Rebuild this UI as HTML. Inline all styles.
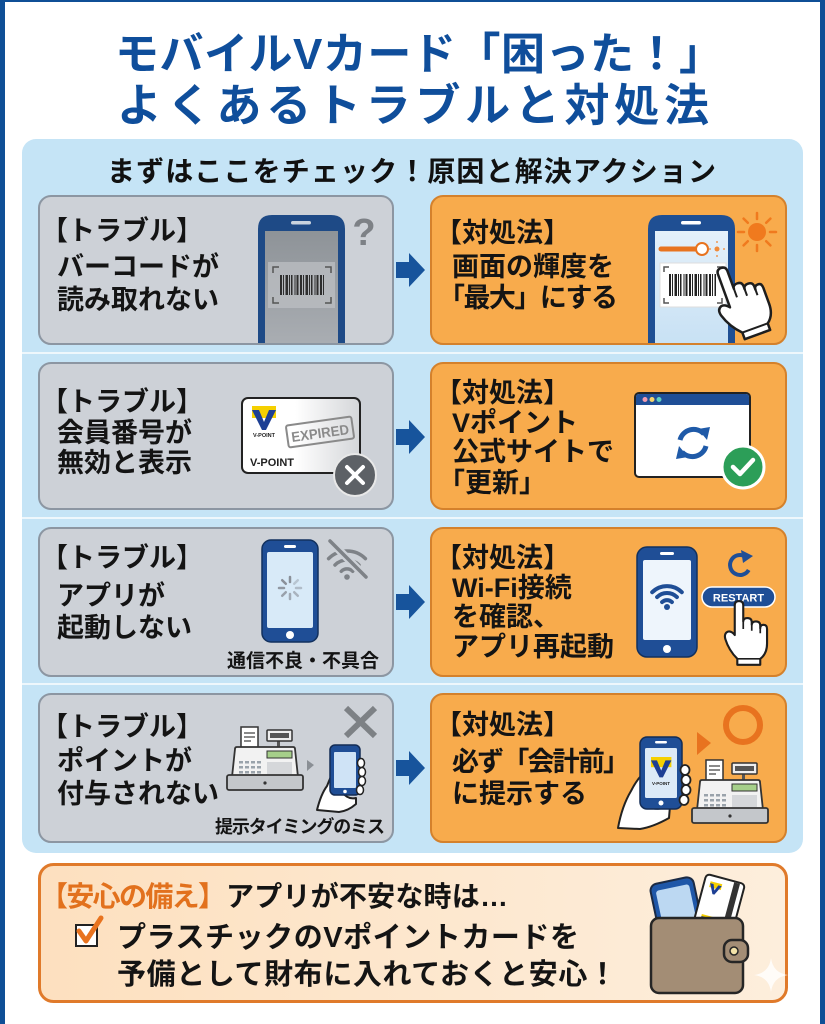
<!DOCTYPE html>
<html><head><meta charset="utf-8">
<style>
html,body{margin:0;padding:0;width:825px;height:1024px;overflow:hidden;background:#fff;}
svg{display:block;}
text{font-family:'Liberation Sans','Noto Sans CJK JP',sans-serif;font-weight:700;}
.t{font-size:27px;fill:#141414;}
</style></head><body>
<svg width="825" height="1024" viewBox="0 0 825 1024" xmlns="http://www.w3.org/2000/svg">
<defs>
 <linearGradient id="gray" x1="0" y1="0" x2="0" y2="1"><stop offset="0" stop-color="#8e9398"/><stop offset="1" stop-color="#a9adb2"/></linearGradient>
 <linearGradient id="lb" x1="0" y1="0" x2="0" y2="1"><stop offset="0" stop-color="#e4f0fa"/><stop offset="1" stop-color="#c8e1f4"/></linearGradient>
 <linearGradient id="cardg" x1="0" y1="0" x2="1" y2="0"><stop offset="0.45" stop-color="#ffffff"/><stop offset="1" stop-color="#d4d6d9"/></linearGradient>
 <linearGradient id="peach" x1="0" y1="0" x2="1" y2="0"><stop offset="0" stop-color="#fde0bf"/><stop offset="1" stop-color="#fdeedc"/></linearGradient>
 <g id="vlogo"><rect x="0" y="0" width="24" height="12" fill="#f5d000"/><polygon points="0,4 7,4 12,16 17,4 24,4 14,24 10,24" fill="#1d3f94"/></g>
 <g id="hand"><path d="M-5 30 V5 Q-5 0 0 0 Q5 0 5 5 V24 Q5 20 10 20 Q15 20 15 25 V28 Q15 24 20 24 Q25 24 25 29 V32 Q25 28 29 28 Q33 28 33 33 V50 Q33 62 25 68 V75 H-2 V68 Q-12 58 -16 45 Q-18 38 -13 36 Q-9 35 -5 40 Z" fill="#fff" stroke="#1e1e1e" stroke-width="2.5" stroke-linejoin="round"/><path d="M5 24 V33 M15 28 V35 M25 32 V38 M-2 68 H25" stroke="#1e1e1e" stroke-width="2" fill="none"/></g>
 <g id="reg">
  <rect x="14" y="0" width="17" height="26" fill="#fff" stroke="#333" stroke-width="1.5"/>
  <path d="M17 6 H28 M17 10 H28 M17 14 H24" stroke="#444" stroke-width="1.3"/>
  <rect x="50" y="12" width="3" height="9" fill="#555"/>
  <rect x="40" y="3" width="25" height="11" rx="1" fill="#eee" stroke="#333" stroke-width="1.5"/>
  <rect x="43" y="6" width="19" height="5" fill="#555"/>
  <path d="M5 50 L8 22 Q8 20 10 20 H66 Q68 20 68 22 L71 50 Z" fill="#f2f2f2" stroke="#333" stroke-width="1.8"/>
  <rect x="40" y="24" width="25" height="7" fill="#a6cf8a" stroke="#333" stroke-width="1"/>
  <g fill="#9aa3ab"><rect x="12" y="34" width="4" height="2.5"/><rect x="18" y="34" width="4" height="2.5"/><rect x="24" y="34" width="4" height="2.5"/><rect x="30" y="34" width="4" height="2.5"/><rect x="12" y="39" width="4" height="2.5"/><rect x="18" y="39" width="4" height="2.5"/><rect x="24" y="39" width="4" height="2.5"/><rect x="30" y="39" width="4" height="2.5"/><rect x="12" y="44" width="4" height="2.5"/><rect x="18" y="44" width="4" height="2.5"/><rect x="24" y="44" width="4" height="2.5"/><rect x="30" y="44" width="4" height="2.5"/></g>
  <rect x="40" y="35" width="25" height="12" fill="#d5d7da"/>
  <rect x="0" y="48" width="76" height="15" rx="2" fill="#c4c7cb" stroke="#333" stroke-width="1.8"/>
  <circle cx="38" cy="56" r="1.6" fill="#333"/>
 </g>
</defs>

<rect width="825" height="1024" fill="#fff"/>
<rect x="0" y="0" width="5" height="1024" fill="#0f4f96"/>
<rect x="820" y="0" width="5" height="1024" fill="#0f4f96"/>
<rect x="0" y="0" width="825" height="2" fill="#0f4f96"/>

<!-- Title -->
<text x="115" y="69" font-size="44" font-weight="900" fill="#0f4e9b" textLength="608" lengthAdjust="spacing">モバイルVカード「困った！」</text>
<text x="117" y="121" font-size="45" font-weight="900" fill="#0f4e9b" textLength="592" lengthAdjust="spacing">よくあるトラブルと対処法</text>

<!-- Panel -->
<rect x="22" y="139" width="781" height="714" rx="14" fill="#c5e4f6"/>
<text x="107" y="181" font-size="28" fill="#111" textLength="609" lengthAdjust="spacing">まずはここをチェック！原因と解決アクション</text>
<rect x="22" y="352" width="781" height="2" fill="#eef7fc"/>
<rect x="22" y="517" width="781" height="2" fill="#eef7fc"/>
<rect x="22" y="683" width="781" height="2" fill="#eef7fc"/>

<!-- Boxes -->
<g fill="#cdd1d7" stroke="#8c96a2" stroke-width="2">
 <rect x="39" y="196" width="354" height="148" rx="12"/>
 <rect x="39" y="363" width="354" height="146" rx="12"/>
 <rect x="39" y="528" width="354" height="148" rx="12"/>
 <rect x="39" y="694" width="354" height="148" rx="12"/>
</g>
<g fill="#f8ab4c" stroke="#d4812c" stroke-width="2">
 <rect x="431" y="196" width="355" height="148" rx="12"/>
 <rect x="431" y="363" width="355" height="146" rx="12"/>
 <rect x="431" y="528" width="355" height="148" rx="12"/>
 <rect x="431" y="694" width="355" height="148" rx="12"/>
</g>

<!-- Arrows -->
<g fill="#17549c">
 <path d="M396 262 H409 V253 L425 270 L409 287 V278 H396 Z"/>
 <path d="M396 429 H409 V420 L425 437 L409 454 V445 H396 Z"/>
 <path d="M396 594 H409 V585 L425 602 L409 619 V610 H396 Z"/>
 <path d="M396 760 H409 V751 L425 768 L409 785 V776 H396 Z"/>
</g>

<!-- Left texts -->
<text class="t" x="41" y="240">【トラブル】</text>
<text class="t" x="57" y="276">バーコードが</text>
<text class="t" x="57" y="309">読み取れない</text>
<text class="t" x="41" y="411">【トラブル】</text>
<text class="t" x="57" y="442">会員番号が</text>
<text class="t" x="57" y="472">無効と表示</text>
<text class="t" x="41" y="567">【トラブル】</text>
<text class="t" x="57" y="605">アプリが</text>
<text class="t" x="57" y="637">起動しない</text>
<text class="t" x="41" y="736">【トラブル】</text>
<text class="t" x="57" y="770">ポイントが</text>
<text class="t" x="57" y="803">付与されない</text>

<!-- Right texts -->
<text class="t" x="435" y="242">【対処法】</text>
<text class="t" x="452" y="276">画面の輝度を</text>
<text class="t" x="438" y="307" textLength="180" lengthAdjust="spacing">「最大」にする</text>
<text class="t" x="435" y="402">【対処法】</text>
<text class="t" x="452" y="432">Vポイント</text>
<text class="t" x="452" y="461">公式サイトで</text>
<text class="t" x="438" y="492">「更新」</text>
<text class="t" x="435" y="567">【対処法】</text>
<text class="t" x="452" y="597">Wi-Fi接続</text>
<text class="t" x="452" y="626">を確認、</text>
<text class="t" x="452" y="656">アプリ再起動</text>
<text class="t" x="435" y="734">【対処法】</text>
<text class="t" x="452" y="771" textLength="178" lengthAdjust="spacing">必ず「会計前」</text>
<text class="t" x="452" y="803">に提示する</text>

<!-- Row1 left icon -->
<path d="M258 343 V229 Q258 215 272 215 H331 Q345 215 345 229 V343 Z" fill="#1e4a86"/>
<rect x="265" y="231" width="73" height="112" fill="url(#gray)"/>
<rect x="291" y="221" width="20" height="3.5" rx="1.75" fill="#c9d3de"/>
<rect x="268" y="262" width="67" height="46" fill="#bcbfc3" opacity=".75"/>
<path d="M273 273 V267 H279 M325 267 H331 V273 M273 297 V303 H279 M325 303 H331 V297" stroke="#555" stroke-width="1.5" fill="none"/>
<line x1="280" y1="285" x2="324" y2="285" stroke="#2e2e2e" stroke-width="20" stroke-dasharray="2 1 1 1.5 2.5 1 1 1 1.5 2 1 1 2 1.5"/>
<text x="364" y="245" font-size="38" fill="#7d8186" text-anchor="middle">?</text>

<!-- Row1 right icon -->
<path d="M648 343 V229 Q648 215 662 215 H721 Q735 215 735 229 V343 Z" fill="#1f4f93"/>
<rect x="655" y="231" width="73" height="112" fill="url(#lb)"/>
<rect x="681" y="221" width="20" height="3.5" rx="1.75" fill="#fff"/>
<line x1="661" y1="249" x2="700" y2="249" stroke="#e8731f" stroke-width="5" stroke-linecap="round"/>
<circle cx="702" cy="249" r="6" fill="#fff" stroke="#e8731f" stroke-width="2"/>
<circle cx="717" cy="249" r="2.5" fill="#f08a3a"/>
<path d="M717 243 V241 M717 255 V257 M711 249 H709 M723 249 H725" stroke="#f08a3a" stroke-width="1.3"/>
<rect x="660" y="263" width="66" height="44" fill="#fff" stroke="#ddd"/>
<path d="M664 272 V267 H669 M717 267 H722 V272 M664 298 V303 H669 M717 303 H722 V298" stroke="#555" stroke-width="1.5" fill="none"/>
<line x1="669" y1="285" x2="716" y2="285" stroke="#222" stroke-width="22" stroke-dasharray="2 1 1 1.5 2.5 1 1 1 1.5 2 1 1 2 1.5"/>
<use href="#hand" transform="translate(721,268) rotate(-20)"/>
<g transform="translate(757,232)">
 <circle r="9" fill="#f07a1e"/>
 <path d="M0 -13 V-19 M0 13 V19 M-13 0 H-19 M13 0 H19 M9.2 -9.2 L13.4 -13.4 M-9.2 -9.2 L-13.4 -13.4 M9.2 9.2 L13.4 13.4 M-9.2 9.2 L-13.4 13.4" stroke="#f07a1e" stroke-width="2.5" stroke-linecap="round"/>
</g>

<!-- Row2 left icon -->
<rect x="242" y="398" width="118" height="75" rx="6" fill="url(#cardg)" stroke="#222" stroke-width="2"/>
<use href="#vlogo" transform="translate(252,406)"/>
<text x="264" y="437" font-size="5.5" text-anchor="middle" fill="#222">V-POINT</text>
<g transform="translate(320,432) rotate(-8)">
 <rect x="-33" y="-11" width="66" height="22" rx="2" fill="none" stroke="#8a8a8a" stroke-width="2"/>
 <text x="-29" y="6" font-size="14" fill="#8a8a8a" textLength="58" lengthAdjust="spacingAndGlyphs">EXPIRED</text>
</g>
<text x="250" y="466" font-size="11" fill="#222">V-POINT</text>
<circle cx="355" cy="475" r="21" fill="#5d6166" stroke="#e8e8e8" stroke-width="2"/>
<path d="M347 467 L363 483 M363 467 L347 483" stroke="#fff" stroke-width="4" stroke-linecap="round"/>

<!-- Row2 right icon -->
<rect x="635" y="393" width="115" height="84" rx="4" fill="#fff" stroke="#222" stroke-width="2"/>
<path d="M636 405 V397 Q636 394 639 394 H746 Q749 394 749 397 V405 Z" fill="#1f4e96"/>
<circle cx="645" cy="399.5" r="2.5" fill="#f29bb0"/>
<circle cx="652" cy="399.5" r="2.5" fill="#f5d36b"/>
<circle cx="659" cy="399.5" r="2.5" fill="#5fd0c0"/>
<g stroke="#1f5aa8" stroke-width="5" fill="none">
 <path d="M680 440 A14 14 0 0 1 704 434"/>
 <path d="M706 446 A14 14 0 0 1 682 452"/>
</g>
<polygon points="698,429 710,427 707,440" fill="#1f5aa8"/>
<polygon points="688,457 676,459 679,446" fill="#1f5aa8"/>
<circle cx="743" cy="467" r="21" fill="#2c9e58" stroke="#fff" stroke-width="3"/>
<path d="M733 467 L740 474 L753 460" stroke="#fff" stroke-width="4.5" fill="none" stroke-linecap="round" stroke-linejoin="round"/>

<!-- Row3 left icon -->
<rect x="262" y="540" width="56" height="102" rx="9" fill="#1f4e96" stroke="#12315e" stroke-width="1.5"/>
<rect x="267" y="552" width="46" height="76" rx="2" fill="#d8eaf8"/>
<rect x="284" y="545" width="12" height="3" rx="1.5" fill="#fff"/>
<circle cx="290" cy="635" r="4" fill="#fff"/>
<g stroke="#8a9099" stroke-width="2.5" stroke-linecap="round">
 <line x1="296" y1="588" x2="301" y2="588" opacity=".5"/>
 <line x1="294.2" y1="592.2" x2="297.8" y2="595.8" opacity=".6"/>
 <line x1="290" y1="594" x2="290" y2="599" opacity=".7"/>
 <line x1="285.8" y1="592.2" x2="282.2" y2="595.8" opacity=".8"/>
 <line x1="284" y1="588" x2="279" y2="588" opacity=".9"/>
 <line x1="285.8" y1="583.8" x2="282.2" y2="580.2"/>
 <line x1="290" y1="582" x2="290" y2="577"/>
 <line x1="294.2" y1="583.8" x2="297.8" y2="580.2" opacity=".4"/>
</g>
<g stroke="#7e8287" stroke-width="3.5" fill="none" stroke-linecap="round">
 <path d="M341.3 571.3 A8 8 0 0 1 352.7 571.3"/>
 <path d="M335 565 A17 17 0 0 1 359 565"/>
 <path d="M328.6 558.6 A26 26 0 0 1 365.4 558.6"/>
</g>
<circle cx="347" cy="577" r="2.8" fill="#7e8287"/>
<line x1="330" y1="541" x2="366" y2="577" stroke="#cdd1d7" stroke-width="8"/>
<line x1="330" y1="541" x2="366" y2="577" stroke="#7e8287" stroke-width="3.5" stroke-linecap="round"/>
<text x="303" y="667" font-size="19" fill="#141414" text-anchor="middle">通信不良・不具合</text>

<!-- Row3 right icon -->
<rect x="637" y="547" width="60" height="110" rx="10" fill="#1f4e96" stroke="#12315e" stroke-width="1.5"/>
<rect x="643" y="560" width="48" height="80" rx="2" fill="#eef5fc"/>
<rect x="660" y="552" width="14" height="3" rx="1.5" fill="#fff"/>
<circle cx="667" cy="649" r="4" fill="#fff"/>
<g stroke="#1f4e96" stroke-width="4" fill="none" stroke-linecap="round">
 <path d="M662.1 602.1 A7 7 0 0 1 671.9 602.1"/>
 <path d="M657.1 597.1 A14 14 0 0 1 676.9 597.1"/>
 <path d="M652.2 592.2 A21 21 0 0 1 681.8 592.2"/>
</g>
<circle cx="667" cy="607" r="3" fill="#1f4e96"/>
<path d="M748.7 570 A10 10 0 1 1 745 556.3" stroke="#1f4e96" stroke-width="4" fill="none"/>
<polygon points="741,550 753,556 743,563" fill="#1f4e96"/>
<rect x="702" y="587" width="73" height="20" rx="10" fill="#1f4e96" stroke="#fff" stroke-width="1.5"/>
<text x="738.5" y="601.5" font-size="11" fill="#fff" text-anchor="middle">RESTART</text>
<use href="#hand" transform="translate(739,601) scale(0.85)"/>

<!-- Row4 left icon -->
<use href="#reg" transform="translate(227,727)"/>
<polygon points="307,760 314,765 307,771" fill="#8a8f95"/>
<path d="M317 810 Q321 794 327 786 Q331 776 334 770 L342 792 Q348 800 356 798 L356 804 Q348 811 339 812 Z" fill="#fff" stroke="#222" stroke-width="2" stroke-linejoin="round"/>
<rect x="330" y="745" width="30" height="50" rx="5" fill="#1f4e96" stroke="#132c55" stroke-width="1.5"/>
<rect x="334" y="752" width="22" height="36" rx="1" fill="#cfe3f6"/>
<circle cx="345" cy="791.5" r="1.8" fill="#fff"/>
<g fill="#fff" stroke="#222" stroke-width="1.5">
 <ellipse cx="361" cy="763" rx="3.5" ry="4.5"/>
 <ellipse cx="362" cy="772" rx="3.5" ry="4.5"/>
 <ellipse cx="362" cy="781" rx="3.5" ry="4.5"/>
 <ellipse cx="360" cy="790" rx="3.5" ry="4.5"/>
</g>
<path d="M346 708 L375 736 M375 708 L346 736" stroke="#7d8185" stroke-width="6"/>
<text x="215" y="833" font-size="18" fill="#141414" textLength="170" lengthAdjust="spacing">提示タイミングのミス</text>

<!-- Row4 right icon -->
<path d="M618 828 Q622 806 631 791 Q636 781 641 776 L646 805 Q656 812 670 806 L669 818 Q653 827 640 829 Z" fill="#fff" stroke="#222" stroke-width="2" stroke-linejoin="round"/>
<rect x="640" y="737" width="42" height="72" rx="7" fill="#1f4e96" stroke="#132c55" stroke-width="1.5"/>
<rect x="645" y="748" width="32" height="50" rx="1.5" fill="#dceaf7"/>
<rect x="655" y="741" width="12" height="2.5" rx="1.2" fill="#fff"/>
<use href="#vlogo" transform="translate(651,757) scale(0.85)"/>
<text x="661" y="785" font-size="4.5" text-anchor="middle" fill="#222">V-POINT</text>
<circle cx="661" cy="803" r="2.5" fill="#fff"/>
<g fill="#fff" stroke="#222" stroke-width="1.8">
 <ellipse cx="685" cy="770" rx="4.5" ry="5"/>
 <ellipse cx="686" cy="780" rx="4.5" ry="5"/>
 <ellipse cx="686" cy="790" rx="4.5" ry="5"/>
 <ellipse cx="684" cy="800" rx="4.5" ry="5"/>
</g>
<polygon points="697,732 711,743 697,755" fill="#e8731f"/>
<circle cx="743" cy="725" r="17" fill="none" stroke="#e8731f" stroke-width="6"/>
<use href="#reg" transform="translate(692,760)"/>

<!-- Bottom box -->
<rect x="39.5" y="864.5" width="747" height="137" rx="14" fill="url(#peach)" stroke="#e07a2a" stroke-width="3"/>
<text x="40" y="906" font-size="28" fill="#e2711d" textLength="186" lengthAdjust="spacing">【安心の備え】</text>
<text x="226" y="906" font-size="28" fill="#141414" textLength="282" lengthAdjust="spacing">アプリが不安な時は…</text>
<rect x="76" y="925" width="21" height="21" fill="#fff" stroke="#222" stroke-width="2"/>
<path d="M79 931 L86 941 L101 918" stroke="#e8731f" stroke-width="5" fill="none" stroke-linecap="round" stroke-linejoin="round"/>
<text x="117" y="947" font-size="29" fill="#141414" textLength="462" lengthAdjust="spacing">プラスチックのVポイントカードを</text>
<text x="117" y="984" font-size="29" fill="#141414" textLength="500" lengthAdjust="spacing">予備として財布に入れておくと安心！</text>

<!-- Wallet -->
<g transform="translate(677,910) rotate(-12)">
 <rect x="-22" y="-30" width="44" height="72" rx="7" fill="#1f57a8" stroke="#1b2a44" stroke-width="2"/>
 <rect x="-17" y="-23" width="34" height="58" rx="3" fill="#bcd8f2"/>
</g>
<g transform="translate(718,908) rotate(15)">
 <rect x="-20" y="-30" width="40" height="72" rx="4" fill="#fff" stroke="#222" stroke-width="2"/>
 <rect x="9" y="-29" width="6" height="70" fill="#333"/>
 <use href="#vlogo" transform="translate(-14,-24) scale(0.5)"/>
 <use href="#vlogo" transform="translate(-14,10) scale(0.5)"/>
</g>
<rect x="651" y="918" width="92" height="75" rx="8" fill="#a38d75" stroke="#262626" stroke-width="2.5"/>
<rect x="724" y="940" width="24" height="22" rx="8" fill="#a38d75" stroke="#262626" stroke-width="2.5"/>
<circle cx="734" cy="951" r="4" fill="#f3e3a8" stroke="#262626" stroke-width="1.5"/>
<path d="M771 958 Q773 973 788 975 Q773 977 771 992 Q769 977 754 975 Q769 973 771 958 Z" fill="#fff" opacity=".8"/>
</svg>
</body></html>
